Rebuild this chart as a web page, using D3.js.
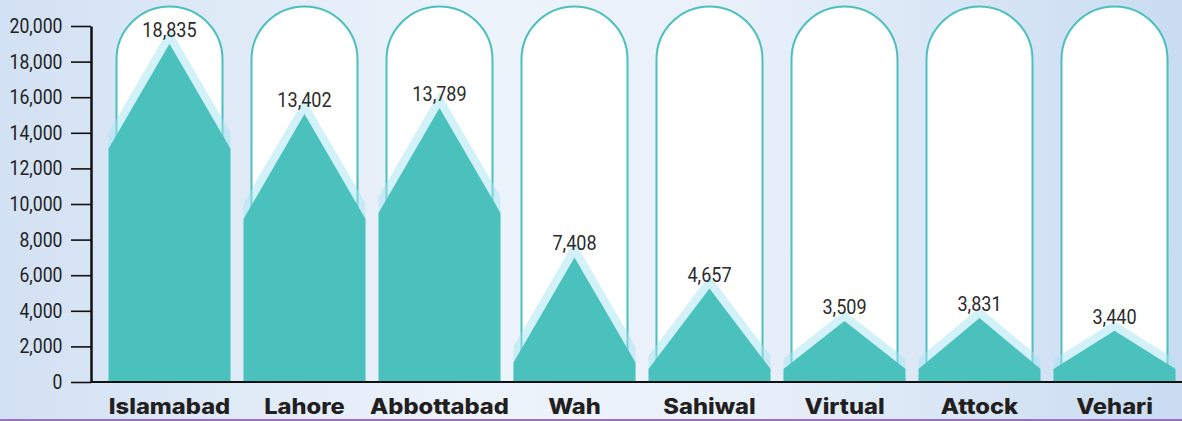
<!DOCTYPE html>
<html>
<head>
<meta charset="utf-8">
<script src="https://cdn.jsdelivr.net/npm/d3@7"></script>
<style>
body{margin:0;padding:0;overflow:hidden}
svg{display:block}
</style>
</head>
<body>
<script>
// campuses along the x axis
var categories=["Islamabad","Lahore","Abbottabad","Wah","Sahiwal","Virtual","Attock","Vehari"]
// numbers printed above each peak
var values=[18835,13402,13789,7408,4657,3509,3831,3440]
// height of each drawn peak
var peaks=[19000,15050,15400,7000,5250,3430,3600,2880]
var yTicks=[0,2000,4000,6000,8000,10000,12000,14000,16000,18000,20000]

var width=1182
var height=421
var teal="#4ac1bc"

var svg=d3.select("body").append("svg")
	.attr("width",width)
	.attr("height",height)

var defs=svg.append("defs")
var grad=defs.append("linearGradient").attr("id","bg")
	.attr("x1","0%").attr("y1","0%").attr("x2","100%").attr("y2","0%")
grad.append("stop").attr("offset","0%").attr("stop-color","#d2e1f3")
grad.append("stop").attr("offset","40%").attr("stop-color","#edf3fb")
grad.append("stop").attr("offset","60%").attr("stop-color","#eaf1fa")
grad.append("stop").attr("offset","100%").attr("stop-color","#c9dcf1")

svg.append("rect").attr("width",width).attr("height",height).attr("fill","url(#bg)")
svg.append("rect").attr("x",0).attr("y",419).attr("width",width).attr("height",2).attr("fill","#9d6fbf")

var x=d3.scaleBand().domain(categories).range([102,1182]).padding(0)
var y=d3.scaleLinear().domain([0,20000]).range([382,26])

var half=61      // half width of a peak shape
var capHalf=53   // half width of the capsule
var base=y(0)-1

function shape(d,i)
{
	var cx=x(d)+x.bandwidth()/2
	var apex=y(peaks[i])
	var shoulder=Math.min(apex+105,y(0)-13)
	return [[cx-half,base],[cx-half,shoulder],[cx,apex],[cx+half,shoulder],[cx+half,base]]
}
var line=d3.line()

var groups=svg.append("g").attr("class","bars")
	.selectAll("g")
	.data(categories)
	.enter()
	.append("g")

// capsules behind the peaks
groups.append("path")
	.attr("d",function(d){
		var cx=x(d)+x.bandwidth()/2
		var top=6.5
		return "M"+(cx-capHalf)+","+base+" L"+(cx-capHalf)+","+(top+capHalf)
			+" A"+capHalf+","+capHalf+" 0 0 1 "+(cx+capHalf)+","+(top+capHalf)
			+" L"+(cx+capHalf)+","+base
	})
	.attr("fill","#fff")
	.attr("stroke","#4cc0bf")
	.attr("stroke-width",2)

groups.each(function(d,i){
	var cx=x(d)+x.bandwidth()/2
	defs.append("clipPath").attr("id","clip"+i)
		.append("rect")
		.attr("x",cx-half).attr("y",0)
		.attr("width",half*2).attr("height",base)
})

// light halo round each peak
groups.append("path")
	.attr("clip-path",function(d,i){return "url(#clip"+i+")"})
	.attr("d",function(d,i){return line(shape(d,i))+"Z"})
	.attr("fill","#a6e4f2")
	.attr("stroke","#a6e4f2")
	.attr("stroke-width",16)
	.attr("stroke-linejoin","miter")
	.attr("stroke-miterlimit",10)
	.attr("opacity",0.5)

groups.append("path")
	.attr("d",function(d,i){return line(shape(d,i))+"Z"})
	.attr("fill",teal)

groups.append("text")
	.attr("transform",function(d,i){
		var cx=x(d)+x.bandwidth()/2
		return "translate("+cx+","+(y(peaks[i])-7)+") scale(0.86,1)"
	})
	.attr("text-anchor","middle")
	.attr("font-family","Roboto, sans-serif")
	.attr("font-size",21)
	.attr("fill","#2b2b2b")
	.text(function(d,i){return d3.format(",")(values[i])})

// axes
var yAxis=d3.axisLeft(y).tickValues(yTicks).tickFormat(d3.format(",")).tickSize(20).tickSizeOuter(0).tickPadding(8)
var gy=svg.append("g").attr("class","y axis")
	.attr("transform","translate(91,0)")
	.call(yAxis)
gy.select(".domain").attr("stroke","#111").attr("stroke-width",2.5)
gy.selectAll(".tick line").attr("stroke","#111").attr("stroke-width",1.6)
gy.selectAll(".tick text")
	.attr("font-family","Roboto, sans-serif")
	.attr("font-size",20.5)
	.attr("fill","#222")
	.attr("x",-28.5/0.86)
	.attr("transform","scale(0.86,1)")

svg.append("line")
	.attr("x1",91).attr("x2",width)
	.attr("y1",382).attr("y2",382)
	.attr("stroke","#111").attr("stroke-width",2)

var xAxis=d3.axisBottom(x).tickSize(0).tickPadding(17)
var gx=svg.append("g").attr("class","x axis")
	.attr("transform","translate(0,382)")
	.call(xAxis)
gx.select(".domain").remove()
gx.selectAll(".tick text")
	.attr("font-family","Inter, 'Open Sans', sans-serif")
	.attr("font-weight",800)
	.attr("font-size",21)
	.attr("fill","#231f20")
	.attr("transform","scale(1.13,1)")
gx.selectAll(".tick").attr("transform",function(d){return "translate("+(x(d)+x.bandwidth()/2)+",0)"})
</script>
</body>
</html>
